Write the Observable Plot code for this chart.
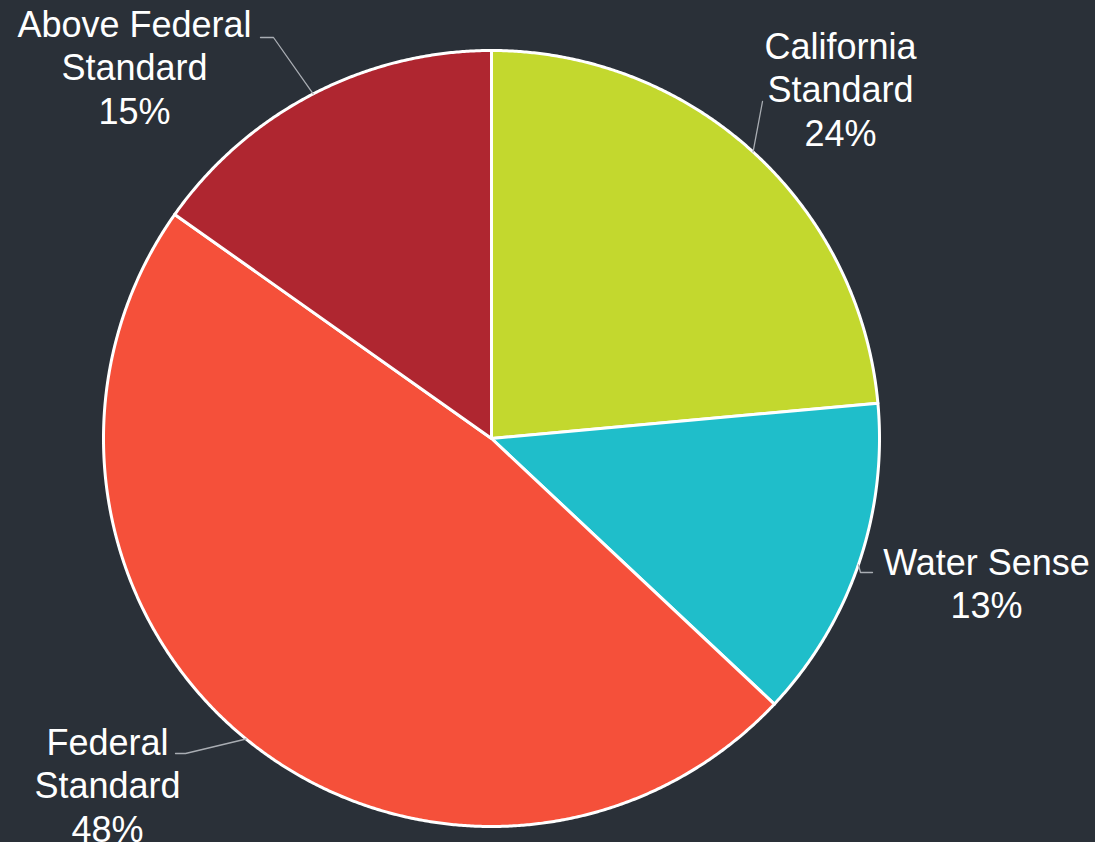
<!DOCTYPE html>
<html>
<head>
<meta charset="utf-8">
<script src="https://cdn.jsdelivr.net/npm/d3@7"></script>
<script src="https://cdn.jsdelivr.net/npm/@observablehq/plot@0.6"></script>
<style>
  html, body { margin: 0; padding: 0; background: #2a3038; }
  #chart { width: 1095px; height: 842px; }
</style>
</head>
<body>
<div id="chart"></div>
<script>
// ---- data ----
const categories = ["California Standard", "Water Sense", "Federal Standard", "Above Federal Standard"];
const labelText = ["California\nStandard", "Water Sense", "Federal\nStandard", "Above Federal\nStandard"];
const shares = [23.55, 13.45, 47.8, 15.2];
const shareLabels = ["24%", "13%", "48%", "15%"];
const colors = ["#c3d82e", "#1fbeca", "#f5503a", "#af2630"];

// ---- layout (pixel space) ----
const W = 1095, H = 842;
const cx = 491, cy = 438, R = 388;
const labelPos = [[840, 88], [986, 582], [107, 784], [134, 66]];
const leaderEnd = [
  [[762, 101]],
  [[860, 572], [872, 572]],
  [[185, 753], [175, 753]],
  [[273, 37], [260, 37]]
];

const arcs = d3.pie().sort(null).value(d => d)(shares);

// slice polygons
const polys = [];
arcs.forEach((a, i) => {
  polys.push({name: categories[i], x: cx, y: cy});
  const n = Math.max(4, Math.ceil((a.endAngle - a.startAngle) / 0.005));
  for (let k = 0; k <= n; k++) {
    const t = a.startAngle + (a.endAngle - a.startAngle) * k / n;
    polys.push({name: categories[i], x: cx + R * Math.sin(t), y: cy - R * Math.cos(t)});
  }
});

// leader lines
const leaders = [];
arcs.forEach((a, i) => {
  const m = (a.startAngle + a.endAngle) / 2;
  leaders.push({name: categories[i], x: cx + R * Math.sin(m), y: cy - R * Math.cos(m)});
  leaderEnd[i].forEach(p => leaders.push({name: categories[i], x: p[0], y: p[1]}));
});

const labels = categories.map((c, i) => ({
  name: c, x: labelPos[i][0], y: labelPos[i][1], text: labelText[i] + "\n" + shareLabels[i]
}));

const chart = Plot.plot({
  width: W, height: H,
  margin: 0,
  style: {background: "#2a3038", overflow: "visible"},
  x: {domain: [0, W], range: [0, W], axis: null},
  y: {domain: [0, H], range: [0, H], axis: null},
  color: {domain: categories, range: colors},
  marks: [
    Plot.line(polys, {x: "x", y: "y", z: "name", fill: "name", stroke: "white", strokeWidth: 3, strokeLinejoin: "round", curve: "linear-closed"}),
    Plot.line(leaders, {x: "x", y: "y", z: "name", stroke: "#a9adb3", strokeWidth: 1.3, curve: "linear"}),
    Plot.text(labels, {x: "x", y: "y", text: "text", fill: "white", fontSize: 36, lineHeight: 1.2, lineAnchor: "middle", textAnchor: "middle", fontFamily: "Liberation Sans, Arial, sans-serif"})
  ]
});
document.getElementById("chart").appendChild(chart);
</script>
</body>
</html>
